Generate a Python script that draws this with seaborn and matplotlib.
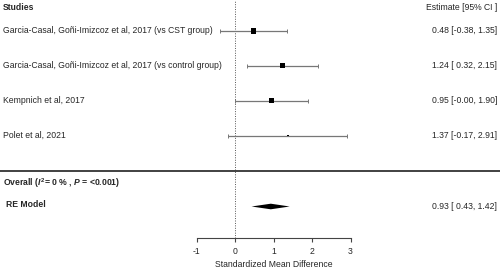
import numpy as np
import pandas as pd
import seaborn as sns
import matplotlib.pyplot as plt

# data
studies = [
    "Garcia-Casal, Goñi-Imizcoz et al, 2017 (vs CST group)",
    "Garcia-Casal, Goñi-Imizcoz et al, 2017 (vs control group)",
    "Kempnich et al, 2017",
    "Polet et al, 2021",
]
estimate = [0.48, 1.24, 0.95, 1.37]
ci_low = [-0.38, 0.32, -0.00, -0.17]
ci_high = [1.35, 2.15, 1.90, 2.91]
labels_right = [
    "0.48 [-0.38, 1.35]",
    "1.24 [ 0.32, 2.15]",
    "0.95 [-0.00, 1.90]",
    "1.37 [-0.17, 2.91]",
]
re_est, re_low, re_high = 0.93, 0.43, 1.42
re_label = "0.93 [ 0.43, 1.42]"
x_ticks = [-1, 0, 1, 2, 3]

sns.set_style("white")
plt.rcParams["font.family"] = ["Liberation Sans", "DejaVu Sans"]
plt.rcParams["mathtext.fontset"] = "custom"
plt.rcParams["mathtext.it"] = "Liberation Sans:bold:italic"
plt.rcParams["mathtext.rm"] = "Liberation Sans:bold"

df = pd.DataFrame({"study": studies, "est": estimate, "lo": ci_low, "hi": ci_high})
# inverse-variance weights from the CI width, used for the square size
df["w"] = 1 / ((df["hi"] - df["lo"]) / 3.92) ** 2
# rows in pixel-like units from the top
df["y"] = 30.7 + 35 * np.arange(len(df))

fig = plt.figure(figsize=(5, 2.7), dpi=100)
ax = fig.add_axes([0, 32 / 270, 1, 238 / 270])
ax.set_xlim(-235 / 38.5, 265 / 38.5)
ax.set_ylim(238, 0)

ax.axvline(0, color="#555555", lw=0.7, ls=(0, (1, 1.5)), zorder=1)
ax.errorbar(df["est"], df["y"], xerr=[df["est"] - df["lo"], df["hi"] - df["est"]],
            fmt="none", ecolor="#777777", elinewidth=0.9, capsize=1.6, capthick=0.7, zorder=2)
sns.scatterplot(data=df, x="est", y="y", size="w", sizes=(1.2, 18), marker="s",
                color="black", edgecolor="black", linewidth=0, legend=False, ax=ax, zorder=3)

# summary diamond
yd = 206.5
ax.fill([re_low, re_est, re_high, re_est], [yd, yd - 2.8, yd, yd + 2.8], color="black", lw=0, zorder=3)

ax.axhline(171, color="#333333", lw=1.3)

tr = ax.get_yaxis_transform()
fs = 6.2
ax.text(0.006, 7.5, "Studies", transform=tr, fontsize=fs, fontweight="bold", va="center")
ax.text(0.994, 7.5, "Estimate [95% CI ]", transform=tr, fontsize=fs, ha="right", va="center")
for y, s, r in zip(df["y"], studies, labels_right):
    ax.text(0.006, y, s, transform=tr, fontsize=fs, va="center")
    ax.text(0.994, y, r, transform=tr, fontsize=fs, ha="right", va="center")
ax.text(0.006, 182.7, r"Overall ($I^2$= 0 % , $P$ = <0.001)", transform=tr,
        fontsize=fs, fontweight="bold", va="center")
ax.text(0.012, 204.5, "RE Model", transform=tr, fontsize=fs, fontweight="bold", va="center")
ax.text(0.994, yd, re_label, transform=tr, fontsize=fs, ha="right", va="center")

for side in ["top", "left", "right"]:
    ax.spines[side].set_visible(False)
ax.spines["bottom"].set_bounds(x_ticks[0], x_ticks[-1])
ax.spines["bottom"].set_color("#444444")
ax.spines["bottom"].set_linewidth(0.8)
ax.set_xticks(x_ticks)
ax.set_xticklabels([str(t) for t in x_ticks])
ax.tick_params(axis="x", direction="out", length=3, width=0.8, color="#444444",
               labelsize=fs, pad=3.5, bottom=True)
ax.set_yticks([])
ax.set_ylabel("")
ax.set_xlabel("Standardized Mean Difference", fontsize=fs, labelpad=3, x=0.547)

fig.savefig("out.png", dpi=100)
plt.close()
